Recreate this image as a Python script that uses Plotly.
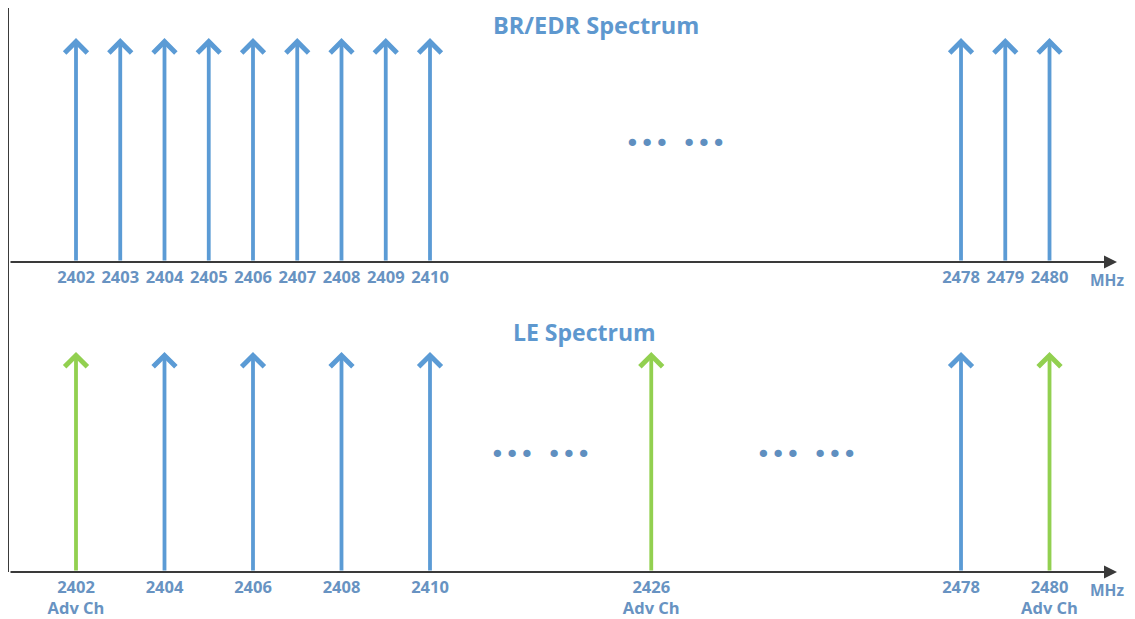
import numpy as np
import plotly.graph_objects as go

# ---- data ----
br_edr_channels = [2402, 2403, 2404, 2405, 2406, 2407, 2408, 2409, 2410, 2478, 2479, 2480]
le_channels = [2402, 2404, 2406, 2408, 2410, 2426, 2478, 2480]
le_adv_channels = [2402, 2426, 2480]
top_title = "BR/EDR Spectrum"
bottom_title = "LE Spectrum"
unit_label = "MHz"
adv_label = "Adv Ch"

# broken (compressed) frequency axis: frequency -> axis slot
break_freqs = [2402, 2410, 2426, 2478, 2480]
break_slots = [0, 8, 13, 20, 22]


def slot(f):
    return float(np.interp(f, break_freqs, break_slots))


BLUE = "#5B9BD5"
GREEN = "#92D050"
TEXT = "#6893C2"
TITLE = "#5E98CF"
AXIS = "#3a3a3a"
FONT = "Open Sans"

W, H = 1127, 611
ml, mr, mt, mb = 1, 18, 0, 47
x_range = [-1.514, 23.525]
split = 0.5496
top_range = [0, 1.134]
bot_range = [0, 1.409]

fig = go.Figure()
# invisible traces to realise the axes
fig.add_trace(go.Scatter(x=[slot(f) for f in br_edr_channels], y=[0] * len(br_edr_channels),
                         mode="markers", marker=dict(opacity=0), hoverinfo="skip",
                         showlegend=False, xaxis="x", yaxis="y"))
fig.add_trace(go.Scatter(x=[slot(f) for f in le_channels], y=[0] * len(le_channels),
                         mode="markers", marker=dict(opacity=0), hoverinfo="skip",
                         showlegend=False, xaxis="x2", yaxis="y2"))

ann = []


def spike(f, color, yref, xref):
    s = slot(f)
    return dict(x=s, y=1, ax=s, ay=0, xref=xref, yref=yref, axref=xref, ayref=yref,
                text="", showarrow=True, arrowhead=4, arrowsize=1.15, arrowwidth=3.8,
                arrowcolor=color, standoff=0, startstandoff=0)


for f in br_edr_channels:
    ann.append(spike(f, BLUE, "y", "x"))
for f in le_channels:
    ann.append(spike(f, GREEN if f in le_adv_channels else BLUE, "y2", "x2"))

# horizontal axes with arrowheads
for xr, yr in (("x", "y"), ("x2", "y2")):
    ann.append(dict(x=x_range[1], y=0, ax=x_range[0], ay=0, xref=xr, yref=yr,
                    axref=xr, ayref=yr, text="", showarrow=True, arrowhead=2,
                    arrowsize=1.3, arrowwidth=2, arrowcolor=AXIS, standoff=0))
    ann.append(dict(x=x_range[1], y=0, xref=xr, yref=yr, text="<b>%s</b>" % unit_label,
                    showarrow=False, xanchor="right", yanchor="top", yshift=-6, xshift=8,
                    borderpad=0, font=dict(family=FONT, size=15.5, color=TEXT)))

# titles
ann.append(dict(x=slot(2426) - 1.25, y=1, xref="x", yref="paper", yanchor="top",
                yshift=0, text="<b>%s</b>" % top_title, showarrow=False, borderpad=0,
                font=dict(family=FONT, size=23.5, color=TITLE)))
ann.append(dict(x=slot(2426) - 1.5, y=split, xref="x2", yref="paper", yanchor="middle",
                yshift=-70, text="<b>%s</b>" % bottom_title, showarrow=False,
                font=dict(family=FONT, size=23, color=TITLE)))

# ellipses in the compressed gaps
dots = "\u2022\u2022\u2022\u2002\u2022\u2022\u2022"
for xr, yr, xs, yv in (("x", "y", 13.55, 0.527),
                       ("x2", "y2", (slot(2410) + slot(2426)) / 2, 0.536),
                       ("x2", "y2", (slot(2426) + slot(2478)) / 2, 0.536)):
    ann.append(dict(x=xs, y=yv, xref=xr, yref=yr, text=dots, showarrow=False,
                    font=dict(family="DejaVu Sans", size=25, color="#5F8FC0")))

tick_font = dict(family=FONT, size=16.5, color=TEXT)
top_ticks = [slot(f) for f in br_edr_channels]
top_text = ["<b>%d</b>" % f for f in br_edr_channels]
bot_ticks = [slot(f) for f in le_channels]
bot_text = [("<b>%d<br>%s</b>" % (f, adv_label)) if f in le_adv_channels else "<b>%d</b>" % f
            for f in le_channels]

common_x = dict(range=x_range, showgrid=False, zeroline=False, showline=False,
                ticks="", tickfont=tick_font, fixedrange=True, ticklabelstandoff=3)
common_y = dict(showgrid=False, zeroline=False, showticklabels=False, ticks="",
                showline=True, linecolor=AXIS, linewidth=1.5, mirror=False)

fig.update_layout(
    width=W, height=H,
    margin=dict(l=ml, r=mr, t=mt, b=mb),
    paper_bgcolor="white", plot_bgcolor="white",
    showlegend=False,
    xaxis=dict(anchor="y", tickvals=top_ticks, ticktext=top_text, **common_x),
    xaxis2=dict(anchor="y2", tickvals=bot_ticks, ticktext=bot_text, **common_x),
    yaxis=dict(domain=[split, 1], range=top_range, anchor="x", **common_y),
    yaxis2=dict(domain=[0, split], range=bot_range, anchor="x2", **common_y),
    annotations=ann,
)

fig.write_html("out.html")
